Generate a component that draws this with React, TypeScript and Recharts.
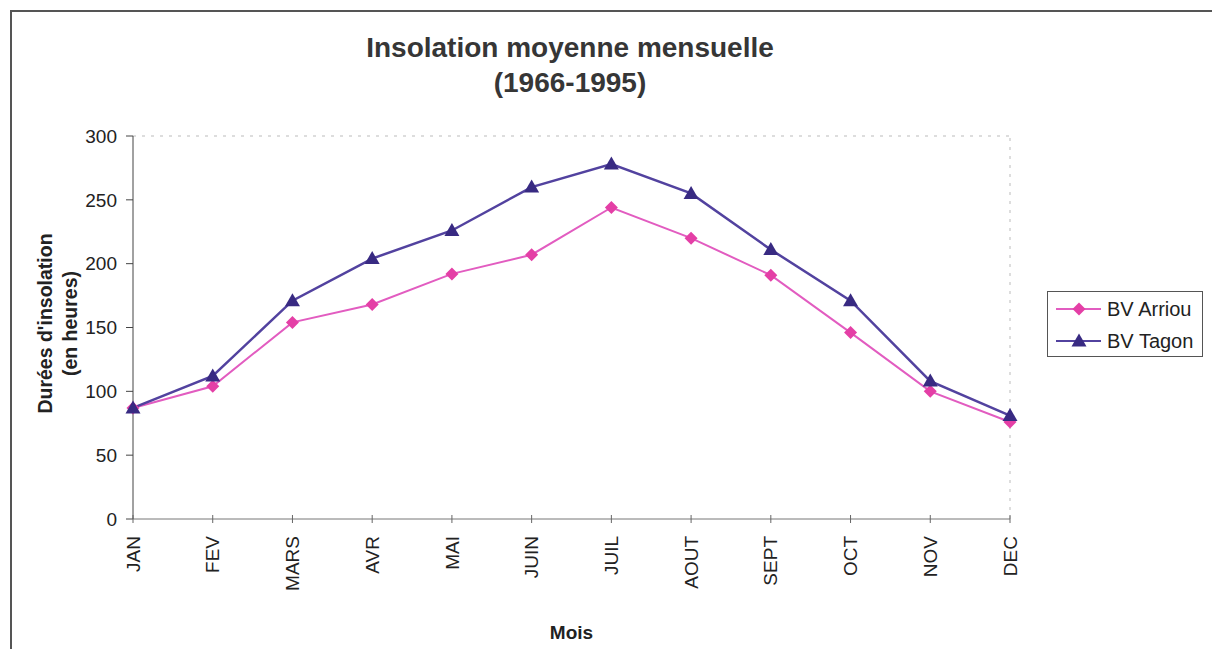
import { LineChart, Line, XAxis, YAxis, Legend, ReferenceLine } from 'recharts'

const months = ['JAN', 'FEV', 'MARS', 'AVR', 'MAI', 'JUIN', 'JUIL', 'AOUT', 'SEPT', 'OCT', 'NOV', 'DEC']
const arriou = [87, 104, 154, 168, 192, 207, 244, 220, 191, 146, 100, 76]
const tagon = [87, 112, 171, 204, 226, 260, 278, 255, 211, 171, 108, 81]
const yTicks = [0, 50, 100, 150, 200, 250, 300]

const data = months.map((m, i) => ({ m, arriou: arriou[i], tagon: tagon[i] }))

const FONT = 'Arial, "Liberation Sans", sans-serif'
const PINK_LINE = '#e25cc0'
const PINK_DOT = '#e43fa6'
const BLUE_LINE = '#52429f'
const BLUE_DOT = '#382a82'

const Diamond = ({ cx, cy, fill }: any) => (
  <polygon points={`${cx},${cy - 6.5} ${cx + 6.5},${cy} ${cx},${cy + 6.5} ${cx - 6.5},${cy}`} fill={fill} />
)

const Triangle = ({ cx, cy, fill }: any) => (
  <polygon points={`${cx},${cy - 7.5} ${cx + 7.5},${cy + 5.5} ${cx - 7.5},${cy + 5.5}`} fill={fill} />
)

const MonthTick = ({ x, y, payload }: any) => (
  <g>
    <line x1={x} x2={x} y1={y - 4} y2={y + 4} stroke="#666" />
    <text
      x={x}
      y={y + 17}
      transform={`rotate(-90, ${x}, ${y + 17})`}
      textAnchor="end"
      dy="0.35em"
      fontSize={19}
      fontFamily={FONT}
      fill="#222"
    >
      {payload.value}
    </text>
  </g>
)

const YTitle = ({ viewBox }: any) => {
  const cy = viewBox.y + viewBox.height / 2 - 4
  return (
    <g fontFamily={FONT} fontWeight="bold" fontSize={19.5} fill="#222" textAnchor="middle">
      <text x={37} y={cy} transform={`rotate(-90, 37, ${cy})`} dy="0.35em">
        Durées d'insolation
      </text>
      <text x={62} y={cy} transform={`rotate(-90, 62, ${cy})`} dy="0.35em">
        (en heures)
      </text>
    </g>
  )
}

const XTitle = ({ viewBox }: any) => (
  <text
    x={viewBox.x + viewBox.width / 2}
    y={viewBox.y + 113}
    textAnchor="middle"
    dy="0.35em"
    fontFamily={FONT}
    fontWeight="bold"
    fontSize={19}
    fill="#222"
  >
    Mois
  </text>
)

const LegendBox = () => {
  const rows = [
    { name: 'BV Arriou', line: PINK_LINE, dot: PINK_DOT, Shape: Diamond },
    { name: 'BV Tagon', line: BLUE_LINE, dot: BLUE_DOT, Shape: Triangle },
  ]
  return (
    <div
      style={{
        position: 'relative',
        width: 156,
        height: 66,
        boxSizing: 'border-box',
        border: '1px solid #555',
        background: '#fff',
        fontFamily: FONT,
        fontSize: 20,
        color: '#222',
      }}
    >
      {rows.map((r, i) => (
        <div key={r.name} style={{ position: 'absolute', left: 0, top: 4 + i * 32, height: 26, width: 156 }}>
          <svg width={56} height={26} style={{ position: 'absolute', left: 6, top: 0 }}>
            <line x1={2} x2={47} y1={13} y2={13} stroke={r.line} strokeWidth={2} />
            <r.Shape cx={25} cy={13} fill={r.dot} />
          </svg>
          <span style={{ position: 'absolute', left: 59, top: 0, lineHeight: '26px', whiteSpace: 'nowrap' }}>
            {r.name}
          </span>
        </div>
      ))}
    </div>
  )
}

export default function App() {
  return (
    <div style={{ position: 'relative', width: 1204, height: 641, background: '#fff' }}>
      <div
        style={{
          position: 'absolute',
          left: 2,
          top: 2,
          right: 0,
          bottom: 0,
          borderLeft: '2px solid #555',
          borderTop: '2px solid #555',
        }}
      />
      <div
        style={{
          position: 'absolute',
          left: 0,
          top: 22,
          width: 1124,
          textAlign: 'center',
          fontFamily: FONT,
          fontWeight: 'bold',
          fontSize: 28,
          lineHeight: '35px',
          color: '#363636',
        }}
      >
        <div>Insolation moyenne mensuelle</div>
        <div>(1966-1995)</div>
      </div>
      <LineChart
        width={1204}
        height={641}
        data={data}
        margin={{ top: 128, right: 202, bottom: 70, left: 65 }}
        style={{ position: 'absolute', left: 0, top: 0 }}
      >
        <ReferenceLine y={300} stroke="#bbb" strokeDasharray="3 6" />
        <ReferenceLine x="DEC" stroke="#bbb" strokeDasharray="3 6" />
        <XAxis
          dataKey="m"
          interval={0}
          height={60}
          axisLine={{ stroke: '#777' }}
          tickLine={false}
          tickSize={0}
          tickMargin={0}
          tick={<MonthTick />}
          label={{ content: XTitle }}
        />
        <YAxis
          width={60}
          domain={[0, 300]}
          ticks={yTicks}
          axisLine={{ stroke: '#444' }}
          tickLine={{ stroke: '#444' }}
          tickSize={7}
          tickMargin={9}
          tick={{ fontSize: 19, fontFamily: FONT, fill: '#222' }}
          label={{ content: YTitle }}
        />
        <Legend
          layout="vertical"
          align="center"
          verticalAlign="middle"
          wrapperStyle={{ left: 1039, top: 283, width: 156 }}
          content={LegendBox}
        />
        <Line
          dataKey="arriou"
          name="BV Arriou"
          stroke={PINK_LINE}
          strokeWidth={2}
          dot={(p: any) => <Diamond key={`a${p.index}`} cx={p.cx} cy={p.cy} fill={PINK_DOT} />}
          isAnimationActive={false}
        />
        <Line
          dataKey="tagon"
          name="BV Tagon"
          stroke={BLUE_LINE}
          strokeWidth={2.5}
          dot={(p: any) => <Triangle key={`t${p.index}`} cx={p.cx} cy={p.cy} fill={BLUE_DOT} />}
          isAnimationActive={false}
        />
      </LineChart>
    </div>
  )
}
